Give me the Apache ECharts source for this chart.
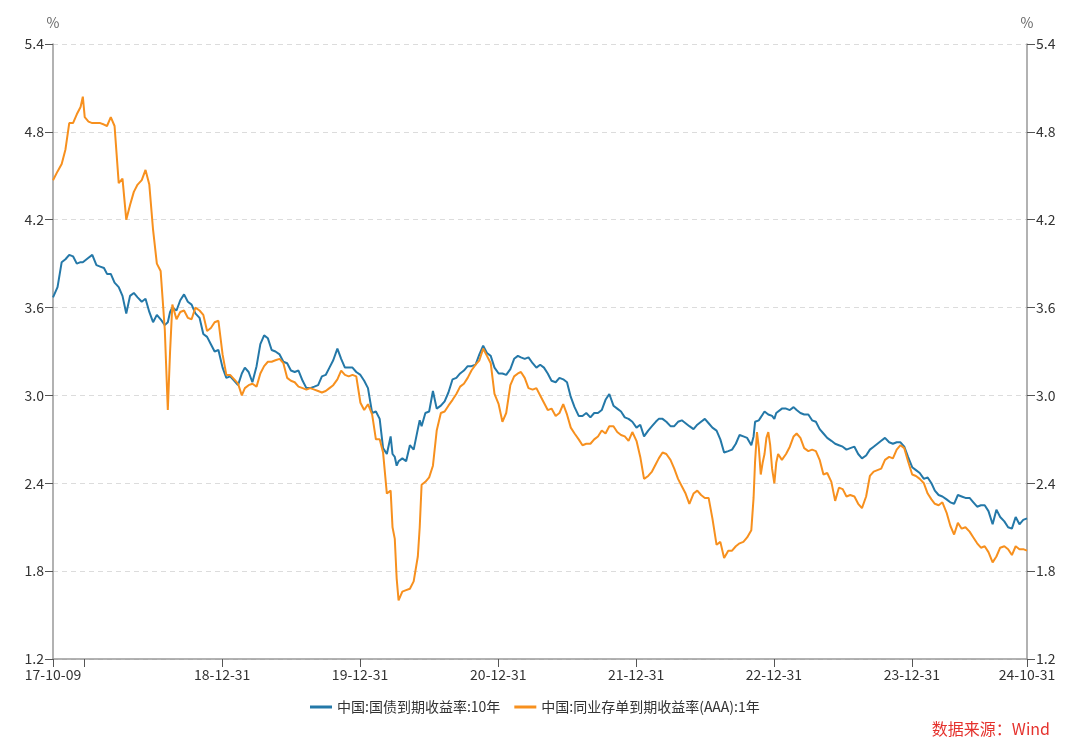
<!DOCTYPE html>
<html><head><meta charset="utf-8">
<script src="https://cdn.jsdelivr.net/npm/echarts@6/dist/echarts.min.js"></script>
<style>html,body{margin:0;padding:0;background:#fff}#c{width:1080px;height:752px}</style>
</head><body><div id="c"></div>
<script>
const dates = [
'2017-10-09','2017-10-21','2017-11-01','2017-11-11','2017-11-21','2017-12-01','2017-12-11','2017-12-21','2017-12-27',
'2018-01-01','2018-01-11','2018-01-21','2018-02-01','2018-02-11','2018-02-21','2018-03-01','2018-03-11','2018-03-21',
'2018-04-01','2018-04-11','2018-04-21','2018-05-01','2018-05-11','2018-05-21','2018-06-01','2018-06-11','2018-06-21',
'2018-07-01','2018-07-11','2018-07-21','2018-08-01','2018-08-09','2018-08-15','2018-08-21','2018-09-01','2018-09-11','2018-09-21',
'2018-10-01','2018-10-11','2018-10-21','2018-11-01','2018-11-11','2018-11-21','2018-12-01','2018-12-11','2018-12-21',
'2019-01-01','2019-01-11','2019-01-21','2019-02-01','2019-02-11','2019-02-21','2019-03-01','2019-03-11','2019-03-21',
'2019-04-01','2019-04-11','2019-04-21','2019-05-01','2019-05-11','2019-05-21','2019-06-01','2019-06-11','2019-06-21',
'2019-07-01','2019-07-11','2019-07-21','2019-08-01','2019-08-11','2019-08-21','2019-09-01','2019-09-11','2019-09-21',
'2019-10-01','2019-10-11','2019-10-21','2019-11-01','2019-11-11','2019-11-21','2019-12-01','2019-12-11','2019-12-21',
'2020-01-01','2020-01-11','2020-01-21','2020-02-01','2020-02-11','2020-02-21','2020-03-01','2020-03-11','2020-03-21','2020-03-26',
'2020-04-01','2020-04-06','2020-04-11','2020-04-21','2020-05-01','2020-05-11','2020-05-21','2020-06-01','2020-06-06','2020-06-11','2020-06-21',
'2020-07-01','2020-07-11','2020-07-21','2020-08-01','2020-08-11','2020-08-21','2020-09-01','2020-09-11','2020-09-21',
'2020-10-01','2020-10-11','2020-10-21','2020-11-01','2020-11-11','2020-11-21','2020-12-01','2020-12-11','2020-12-21',
'2021-01-01','2021-01-11','2021-01-21','2021-02-01','2021-02-11','2021-02-21','2021-03-01','2021-03-11','2021-03-21',
'2021-04-01','2021-04-11','2021-04-21','2021-05-01','2021-05-11','2021-05-21','2021-06-01','2021-06-11','2021-06-21',
'2021-07-01','2021-07-11','2021-07-21','2021-08-01','2021-08-11','2021-08-21','2021-09-01','2021-09-11','2021-09-21',
'2021-10-01','2021-10-11','2021-10-21','2021-11-01','2021-11-11','2021-11-21','2021-12-01','2021-12-11','2021-12-21',
'2022-01-01','2022-01-11','2022-01-21','2022-02-01','2022-02-11','2022-02-21','2022-03-01','2022-03-11','2022-03-21',
'2022-04-01','2022-04-11','2022-04-21','2022-05-01','2022-05-11','2022-05-21','2022-06-01','2022-06-11','2022-06-21',
'2022-07-01','2022-07-11','2022-07-21','2022-08-01','2022-08-11','2022-08-21','2022-09-01','2022-09-11','2022-09-21',
'2022-10-01','2022-10-11','2022-10-21','2022-11-01','2022-11-07','2022-11-11','2022-11-16','2022-11-21','2022-11-26',
'2022-12-01','2022-12-06','2022-12-11','2022-12-16','2022-12-21','2022-12-26',
'2023-01-01','2023-01-06','2023-01-11','2023-01-21','2023-02-01','2023-02-11','2023-02-21','2023-03-01','2023-03-11','2023-03-21',
'2023-04-01','2023-04-11','2023-04-21','2023-05-01','2023-05-11','2023-05-21','2023-06-01','2023-06-11','2023-06-21',
'2023-07-01','2023-07-11','2023-07-21','2023-08-01','2023-08-11','2023-08-21','2023-09-01','2023-09-11','2023-09-21',
'2023-10-01','2023-10-11','2023-10-21','2023-11-01','2023-11-11','2023-11-21','2023-12-01','2023-12-11','2023-12-21',
'2024-01-01','2024-01-11','2024-01-21','2024-02-01','2024-02-11','2024-02-21','2024-03-01','2024-03-11','2024-03-21',
'2024-04-01','2024-04-11','2024-04-21','2024-05-01','2024-05-11','2024-05-21','2024-06-01','2024-06-11','2024-06-21',
'2024-07-01','2024-07-11','2024-07-21','2024-08-01','2024-08-11','2024-08-21','2024-09-01','2024-09-11','2024-09-21',
'2024-10-01','2024-10-11','2024-10-21','2024-10-31'
];
const cgb10y = [
3.67,3.74,3.91,3.93,3.96,3.95,3.90,3.91,3.91,
3.90,3.94,3.96,3.89,3.88,3.87,3.83,3.83,3.77,
3.74,3.68,3.56,3.68,3.70,3.67,3.64,3.66,3.57,
3.50,3.55,3.52,3.48,3.50,3.57,3.60,3.58,3.65,3.69,
3.64,3.62,3.56,3.53,3.42,3.40,3.35,3.30,3.31,
3.19,3.12,3.13,3.10,3.07,3.15,3.19,3.16,3.09,
3.20,3.35,3.41,3.39,3.31,3.30,3.28,3.23,3.22,
3.17,3.16,3.17,3.10,3.05,3.05,3.06,3.07,3.13,
3.14,3.19,3.24,3.32,3.25,3.19,3.19,3.19,3.16,
3.14,3.10,3.05,2.88,2.89,2.84,2.64,2.60,2.72,2.60,
2.58,2.52,2.55,2.57,2.55,2.66,2.63,2.77,2.83,2.79,2.88,
2.89,3.03,2.91,2.93,2.96,3.02,3.11,3.12,3.15,
3.17,3.20,3.20,3.21,3.28,3.34,3.29,3.27,3.19,
3.15,3.15,3.14,3.18,3.25,3.27,3.26,3.25,3.26,
3.22,3.19,3.21,3.19,3.15,3.10,3.09,3.12,3.11,
3.09,2.99,2.92,2.86,2.86,2.88,2.85,2.88,2.88,
2.90,2.97,3.01,2.93,2.91,2.89,2.85,2.84,2.82,
2.78,2.80,2.72,2.76,2.79,2.82,2.84,2.84,2.82,
2.79,2.79,2.82,2.83,2.81,2.79,2.77,2.80,2.82,
2.84,2.81,2.78,2.76,2.70,2.61,2.62,2.63,2.67,
2.73,2.72,2.71,2.66,2.72,2.82,2.83,2.83,2.85,
2.87,2.89,2.88,2.87,2.87,2.86,
2.84,2.88,2.89,2.91,2.91,2.90,2.92,2.90,2.88,2.87,
2.87,2.83,2.82,2.77,2.74,2.71,2.69,2.67,2.66,
2.65,2.63,2.64,2.65,2.60,2.57,2.59,2.63,2.65,
2.67,2.69,2.71,2.68,2.67,2.68,2.68,2.65,2.58,
2.51,2.49,2.47,2.43,2.44,2.40,2.35,2.32,2.31,
2.29,2.27,2.26,2.32,2.31,2.30,2.30,2.27,2.24,
2.25,2.25,2.21,2.12,2.22,2.17,2.14,2.10,2.09,
2.17,2.12,2.15,2.16
];
const ncd1y = [
4.47,4.53,4.58,4.68,4.86,4.86,4.92,4.97,5.04,
4.90,4.87,4.86,4.86,4.86,4.85,4.84,4.90,4.84,
4.45,4.48,4.20,4.30,4.39,4.44,4.47,4.54,4.44,
4.13,3.90,3.85,3.45,2.90,3.30,3.62,3.52,3.57,3.58,
3.53,3.52,3.60,3.58,3.55,3.44,3.46,3.50,3.51,
3.28,3.14,3.14,3.11,3.08,3.00,3.05,3.07,3.08,
3.06,3.15,3.20,3.23,3.23,3.24,3.25,3.22,3.12,
3.10,3.09,3.06,3.05,3.04,3.05,3.04,3.03,3.02,
3.03,3.05,3.07,3.11,3.17,3.14,3.13,3.14,3.13,
2.95,2.90,2.94,2.87,2.70,2.70,2.61,2.33,2.35,2.10,
2.02,1.75,1.60,1.66,1.67,1.68,1.73,1.90,2.10,2.39,2.41,
2.44,2.52,2.76,2.88,2.89,2.93,2.97,3.01,3.06,
3.08,3.12,3.17,3.21,3.24,3.32,3.27,3.22,3.01,
2.94,2.82,2.88,3.07,3.13,3.15,3.16,3.12,3.05,
3.04,3.05,3.00,2.95,2.90,2.91,2.86,2.88,2.94,
2.87,2.78,2.74,2.70,2.66,2.67,2.67,2.70,2.72,
2.76,2.74,2.79,2.79,2.75,2.73,2.72,2.69,2.75,
2.69,2.58,2.43,2.45,2.48,2.53,2.57,2.61,2.60,
2.56,2.50,2.43,2.38,2.33,2.26,2.33,2.35,2.32,
2.30,2.30,2.16,1.98,2.00,1.89,1.94,1.94,1.97,
1.99,2.00,2.03,2.08,2.30,2.55,2.75,2.64,2.46,
2.54,2.60,2.71,2.75,2.66,2.50,
2.40,2.54,2.60,2.56,2.60,2.65,2.72,2.74,2.71,2.64,
2.62,2.63,2.62,2.56,2.46,2.47,2.41,2.28,2.37,
2.36,2.31,2.32,2.31,2.26,2.23,2.31,2.45,2.48,
2.49,2.50,2.56,2.58,2.57,2.63,2.66,2.64,2.55,
2.46,2.45,2.43,2.40,2.33,2.29,2.26,2.25,2.27,
2.20,2.11,2.05,2.13,2.09,2.10,2.07,2.03,1.99,
1.96,1.97,1.93,1.86,1.90,1.96,1.97,1.95,1.91,
1.97,1.95,1.95,1.94
];
const seriesNames = ['中国:国债到期收益率:10年', '中国:同业存单到期收益率(AAA):1年'];
const xLabelDates = ['2017-10-09','2018-12-31','2019-12-31','2020-12-31','2021-12-31','2022-12-31','2023-12-31','2024-10-31'];
const xTickDates = ['2017-10-09','2018-01-01','2018-12-31','2019-12-31','2020-12-31','2021-12-31','2022-12-31','2023-12-31','2024-10-31'];
const yMin = 1.2, yMax = 5.4, yStep = 0.6;
const sourceText = '数据来源：Wind';

function ts(s){ const p = s.split('-'); return new Date(+p[0], +p[1]-1, +p[2]).getTime(); }
function pad(n){ return (n<10?'0':'') + n; }
function fmtDate(v){ const d = new Date(v); return pad(d.getFullYear()%100) + '-' + pad(d.getMonth()+1) + '-' + pad(d.getDate()); }

const FONT = '"Noto Sans CJK SC", "Noto Sans", sans-serif';
const chart = echarts.init(document.getElementById('c'), null, {renderer:'canvas'});

function yAxis(pos){
  return {
    type:'value', position:pos, min:yMin, max:yMax, interval:yStep,
    name:'%', nameLocation:'end', nameGap:14,
    nameTextStyle:{color:'#666', fontSize:14, fontFamily:FONT, align:'center'},
    axisLine:{show:true, lineStyle:{color:'#999', width:1.5}},
    axisTick:{show:true, length:8, lineStyle:{color:'#555', width:1}},
    axisLabel:{color:'#333', fontSize:14, fontFamily:FONT, margin:9, formatter:v=>v.toFixed(1)},
    splitLine:{show:pos==='left', lineStyle:{color:'#dcdcdc', type:[5,4], width:1}}
  };
}

chart.setOption({
  animation:false,
  backgroundColor:'#fff',
  grid:{left:53, right:53, top:44, bottom:93, containLabel:false},
  legend:{
    top:695, left:305, icon:'rect', itemWidth:22, itemHeight:3, itemGap:14,
    textStyle:{color:'#333', fontSize:14, fontFamily:FONT},
    data:seriesNames
  },
  xAxis:{
    type:'value', min:ts(xTickDates[0]), max:ts(xTickDates[xTickDates.length-1]), scale:true,
    axisLine:{onZero:false, lineStyle:{color:'#999', width:1.5}},
    axisTick:{show:true, length:8, customValues:xTickDates.map(ts), lineStyle:{color:'#555'}},
    axisLabel:{customValues:xLabelDates.map(ts), formatter:fmtDate, color:'#333', fontSize:14, fontFamily:FONT, margin:9, hideOverlap:false, showMinLabel:true, showMaxLabel:true},
    splitLine:{show:false}
  },
  yAxis:[yAxis('left'), yAxis('right')],
  series:[
    {name:seriesNames[0], type:'line', yAxisIndex:0, showSymbol:false, color:'#2478a8',
     lineStyle:{width:2, color:'#2478a8'}, data:dates.map((d,i)=>[ts(d), cgb10y[i]])},
    {name:seriesNames[1], type:'line', yAxisIndex:1, showSymbol:false, color:'#f7901e',
     lineStyle:{width:2, color:'#f7901e'}, data:dates.map((d,i)=>[ts(d), ncd1y[i]])}
  ],
  graphic:[{type:'text', right:30, top:721, style:{text:sourceText, fill:'#e5322d', fontSize:16, fontFamily:FONT}}]
});
</script></body></html>
